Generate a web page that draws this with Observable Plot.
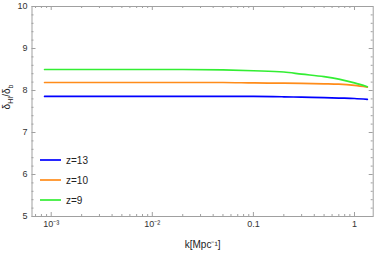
<!DOCTYPE html>
<html><head>
<meta charset="utf-8">
<script src="https://cdn.jsdelivr.net/npm/d3@7"></script>
<script src="https://cdn.jsdelivr.net/npm/@observablehq/plot@0.6"></script>
<style>body{margin:0;background:#fff}</style>
</head><body><div id="chart"></div>
<script>
const k   = [0.00086, 0.002, 0.005, 0.01, 0.02, 0.05, 0.1, 0.2, 0.3, 0.5, 0.7, 1.0, 1.34];
const z13 = [7.86, 7.86, 7.86, 7.86, 7.86, 7.86, 7.86, 7.85, 7.84, 7.83, 7.82, 7.81, 7.79];
const z10 = [8.19, 8.19, 8.19, 8.19, 8.19, 8.19, 8.18, 8.175, 8.17, 8.16, 8.15, 8.12, 8.08];
const z9  = [8.50, 8.50, 8.50, 8.50, 8.50, 8.49, 8.47, 8.44, 8.39, 8.33, 8.27, 8.18, 8.09];
const seriesNames = ["z=13", "z=10", "z=9"];
const colors = ["#0000ff", "#ff8c1a", "#33ee33"];
const xTickValues = [0.001, 0.01, 0.1, 1];
const xTickLabels = ["10⁻³", "10⁻²", "0.1", "1"];
const yTickValues = [5, 6, 7, 8, 9, 10];

const rows = [];
[z13, z10, z9].forEach((vals, i) => vals.forEach((v, j) => rows.push({k: k[j], v, s: seriesNames[i]})));

const xDomain = [Math.pow(10, -3.19), Math.pow(10, 0.185)];
const xMinor = [];
for (let d = -4; d <= 0; d++) for (let m = 2; m <= 9; m++) {
  const v = m * Math.pow(10, d);
  if (v > xDomain[0] && v < xDomain[1]) xMinor.push(v);
}
const yMinor = d3.range(5, 10.001, 0.2).filter(v => Math.abs(v - Math.round(v)) > 1e-6);

const W = 374, H = 256, mt = 6, mb = 40, ml = 31.5, mr = 1.3;
const ih = H - mt - mb, iw = W - ml - mr;
const grey = "#a0a0a0";

const chart = Plot.plot({
  width: W, height: H,
  marginTop: mt, marginBottom: mb, marginLeft: ml, marginRight: mr,
  style: {fontFamily: "Liberation Sans, Arial, sans-serif", fontSize: "9px", color: "#333", background: "#fff"},
  x: {type: "log", domain: xDomain},
  y: {domain: [5, 10]},
  color: {domain: seriesNames, range: colors},
  marks: [
    Plot.ruleX(xTickValues, {x: d => d, insetTop: ih - 4, stroke: grey}),
    Plot.ruleX(xTickValues, {x: d => d, insetBottom: ih - 4, stroke: grey}),
    Plot.ruleX(xMinor, {x: d => d, insetTop: ih - 2, stroke: grey}),
    Plot.ruleX(xMinor, {x: d => d, insetBottom: ih - 2, stroke: grey}),
    Plot.ruleY(yTickValues, {y: d => d, insetRight: iw - 4, stroke: grey}),
    Plot.ruleY(yTickValues, {y: d => d, insetLeft: iw - 4, stroke: grey}),
    Plot.ruleY(yMinor, {y: d => d, insetRight: iw - 2, stroke: grey}),
    Plot.ruleY(yMinor, {y: d => d, insetLeft: iw - 2, stroke: grey}),
    Plot.line(rows, {x: "k", y: "v", stroke: "s", z: "s", strokeWidth: 1.7, curve: "monotone-x"}),
    Plot.axisX(xTickValues, {tickSize: 0, tickPadding: 4, tickFormat: d => xTickLabels[xTickValues.indexOf(d)], label: null, fill: "#333"}),
    Plot.axisY(yTickValues, {tickSize: 0, tickPadding: 4.5, label: null, fill: "#333"}),
    Plot.frame({stroke: grey}),
    Plot.text(["k[Mpc⁻¹]"], {frameAnchor: "bottom", dy: 31, fontSize: 10, fill: "#222"})
  ]
});

const svg = d3.select(chart);
// y label with subscripts
const yl = svg.append("text")
  .attr("transform", `translate(10,97) rotate(-90)`)
  .attr("text-anchor", "middle")
  .attr("font-size", 10)
  .attr("fill", "#222");
yl.append("tspan").text("δ");
yl.append("tspan").attr("font-size", 7).attr("dy", 2.5).text("HI");
yl.append("tspan").attr("dy", -2.5).text("/δ");
yl.append("tspan").attr("font-size", 7).attr("dy", 2.5).text("b");

// legend
const lg = svg.append("g").attr("text-anchor", "start");
seriesNames.forEach((name, i) => {
  const y = 160 + i * 20;
  lg.append("line").attr("x1", 40).attr("x2", 61).attr("y1", y).attr("y2", y)
    .attr("stroke", colors[i]).attr("stroke-width", 1.7);
  lg.append("text").attr("x", 66).attr("y", y).attr("dy", "0.35em")
    .attr("text-anchor", "start")
    .attr("font-size", 10).attr("fill", "#222").text(name);
});

document.getElementById("chart").append(chart);
</script>
</body></html>
